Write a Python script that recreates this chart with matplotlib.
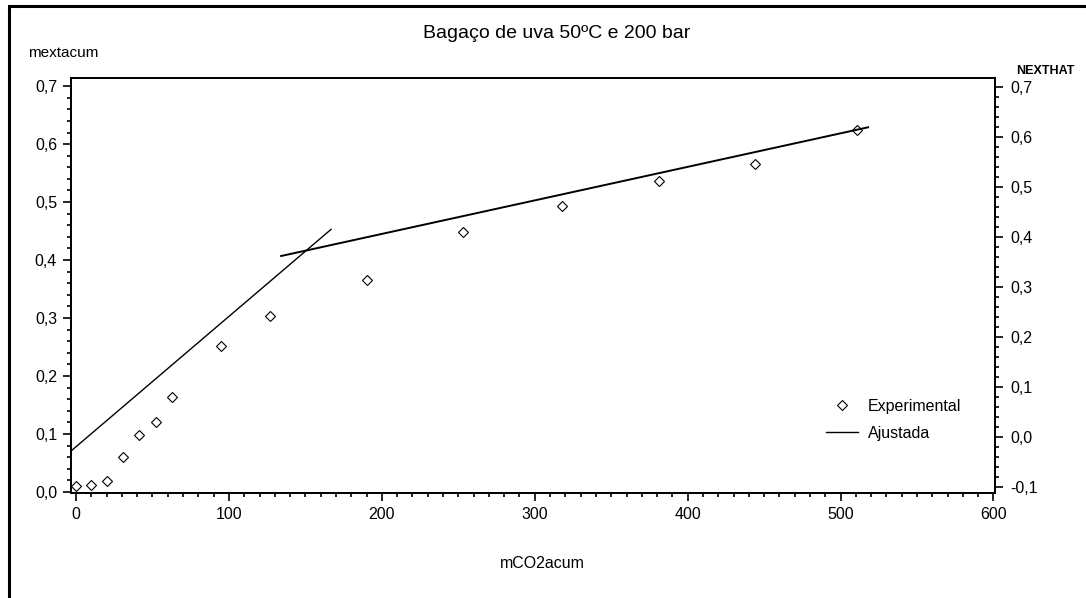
import numpy as np
import matplotlib
matplotlib.use("Agg")
import matplotlib.pyplot as plt
from matplotlib.patches import Rectangle
from matplotlib.ticker import MultipleLocator, FixedLocator, FixedFormatter

plt.rcParams['font.family'] = ['Liberation Sans', 'DejaVu Sans']

# experimental points
mco2 = [0, 10, 20, 31, 41, 52, 63, 95, 127, 190, 253, 318, 381, 444, 511]
mext = [0.010, 0.012, 0.019, 0.060, 0.098, 0.120, 0.164, 0.252, 0.304,
        0.366, 0.448, 0.494, 0.537, 0.565, 0.625]

# fitted segments (end points)
fit1_x = [-3.3, 166.8]
fit1_y = [0.0707, 0.453]
fit2_x = [134.1, 518.0]
fit2_y = [0.407, 0.629]

xticks = [0, 100, 200, 300, 400, 500, 600]
yticks_left = [0.0, 0.1, 0.2, 0.3, 0.4, 0.5, 0.6, 0.7]
ylabels_left = ['0,0', '0,1', '0,2', '0,3', '0,4', '0,5', '0,6', '0,7']
yticks_right = [-0.1, 0.0, 0.1, 0.2, 0.3, 0.4, 0.5, 0.6, 0.7]
ylabels_right = ['-0,1', '0,0', '0,1', '0,2', '0,3', '0,4', '0,5', '0,6', '0,7']

W, H = 1086, 598
fig = plt.figure(figsize=(W / 100, H / 100), dpi=100)
ax = fig.add_axes([71 / W, 1 - 493 / H, (995 - 71) / W, (493 - 78) / H])

ax.plot(mco2, mext, linestyle='none', marker='D', markersize=5.5,
        markerfacecolor='none', markeredgecolor='black', markeredgewidth=0.8,
        label='Experimental')
ax.plot(fit1_x, fit1_y, color='black', lw=1.0, label='Ajustada')
ax.plot(fit2_x, fit2_y, color='black', lw=1.4)

ax.set_xlim(-3.3, 601)
ax.set_ylim(-0.0017, 0.714)

ax.xaxis.set_major_locator(FixedLocator(xticks))
ax.xaxis.set_minor_locator(MultipleLocator(10))
ax.yaxis.set_major_locator(FixedLocator(yticks_left))
ax.yaxis.set_major_formatter(FixedFormatter(ylabels_left))
ax.yaxis.set_minor_locator(MultipleLocator(0.02))
ax.tick_params(which='major', length=6, width=1.2, labelsize=11.5, pad=4)
ax.tick_params(which='minor', length=3, width=1.2)
for s in ax.spines.values():
    s.set_linewidth(1.3)

ax2 = ax.twinx()
ax2.set_ylim(-0.111, 0.717)
ax2.yaxis.set_major_locator(FixedLocator(yticks_right))
ax2.yaxis.set_major_formatter(FixedFormatter(ylabels_right))
ax2.yaxis.set_minor_locator(MultipleLocator(0.02))
ax2.tick_params(which='major', length=6, width=1.2, labelsize=11.5, pad=5)
ax2.tick_params(which='minor', length=3, width=1.2)
for s in ax2.spines.values():
    s.set_linewidth(1.3)

ax.legend(loc='upper left', bbox_to_anchor=(826 / W, 1 - 399 / H),
          bbox_transform=fig.transFigure, frameon=False, fontsize=11.5,
          handlelength=2.0, handletextpad=0.6, labelspacing=0.75,
          borderpad=0, borderaxespad=0)

fig.text(557 / W, 1 - 33 / H, 'Bagaço de uva 50ºC e 200 bar',
         ha='center', va='center', fontsize=14)
fig.text(28 / W, 1 - 53 / H, 'mextacum', ha='left', va='center', fontsize=11)
fig.text(542 / W, 1 - 564 / H, 'mCO2acum', ha='center', va='center', fontsize=11.5)
fig.text(1045 / W, 1 - 71 / H, 'NEXTHAT', ha='center', va='center',
         fontsize=9, fontweight='bold')

# outer frame of the exported graph
fig.patches.append(Rectangle((8.5 / W, -0.1), 2, 1.1 - 6.5 / H,
                             transform=fig.transFigure, fill=False,
                             edgecolor='black', lw=2.2, clip_on=False))

fig.savefig('out.png', dpi=100)
